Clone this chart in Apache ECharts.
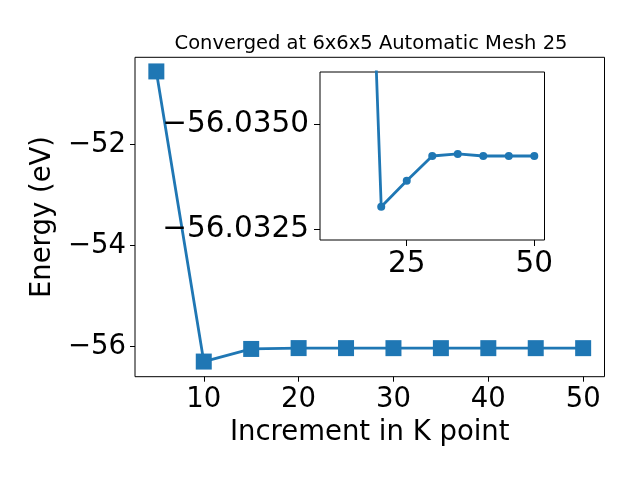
<!DOCTYPE html>
<html>
<head>
<meta charset="utf-8">
<script src="https://cdn.jsdelivr.net/npm/echarts@6/dist/echarts.min.js"></script>
<style>html,body{margin:0;padding:0;background:#fff}#c{width:640px;height:480px}</style>
</head>
<body>
<div id="c"></div>
<script>
const kPoints = [5, 10, 15, 20, 25, 30, 35, 40, 45, 50];
const energies = [-50.55, -56.30, -56.05, -56.03303, -56.03365, -56.03424, -56.03429, -56.03424, -56.03424, -56.03424];
const mainXTicks = [10, 20, 30, 40, 50];
const mainYTicks = [-56, -54, -52];
const insetXTicks = [25, 50];
const insetYTicks = [-56.0350, -56.0325];
const titleText = 'Converged at 6x6x5 Automatic Mesh 25';
const xName = 'Increment in K point';
const yName = 'Energy (eV)';

const FONT = 'DejaVu Sans';
const FS = 27.5;
const FS_IN = 29.5;
const minus = s => String(s).replace('-', '\u2212');
const mainData = kPoints.map((k, i) => [k, energies[i]]);
const insetData = kPoints.slice(1).map((k, i) => [k, energies[i + 1]]);
const axisCommon = {
  axisLine: { show: false },
  splitLine: { show: false }
};
const chart = echarts.init(document.getElementById('c'), null, { renderer: 'canvas' });
chart.setOption({
  animation: false,
  backgroundColor: '#fff',
  title: {
    text: titleText, left: 366, textAlign: 'center', top: 29,
    textStyle: { fontFamily: FONT, fontSize: 19.5, fontWeight: 'normal', color: '#000' }
  },
  grid: [
    { left: 135, right: 35.5, top: 57.3, bottom: 103.3, show: true, borderColor: '#000', borderWidth: 1, backgroundColor: 'transparent', z: 0 },
    { left: 320, right: 95.5, top: 72, bottom: 240, show: true, borderColor: '#000', borderWidth: 1, backgroundColor: '#fff', z: 5 }
  ],
  xAxis: [
    Object.assign({}, axisCommon, {
      gridIndex: 0, type: 'value', min: 2.75, max: 52.25,
      name: xName, nameLocation: 'middle', nameGap: 40,
      nameTextStyle: { fontFamily: FONT, fontSize: FS, color: '#000' },
      axisTick: { show: true, length: 5, customValues: mainXTicks, lineStyle: { color: '#000' } },
      axisLabel: { customValues: mainXTicks, margin: 9, fontFamily: FONT, fontSize: FS, color: '#000', formatter: v => minus(v) }
    }),
    Object.assign({}, axisCommon, {
      gridIndex: 1, type: 'value', min: 8, max: 52, z: 6,
      axisTick: { show: true, length: 6, customValues: insetXTicks, lineStyle: { color: '#000' } },
      axisLabel: { customValues: insetXTicks, margin: 9, fontFamily: FONT, fontSize: FS_IN, color: '#000', formatter: v => minus(v) }
    })
  ],
  yAxis: [
    Object.assign({}, axisCommon, {
      gridIndex: 0, type: 'value', min: -56.60, max: -50.27,
      name: yName, nameLocation: 'middle', nameGap: 66,
      nameTextStyle: { fontFamily: FONT, fontSize: FS, color: '#000' },
      axisTick: { show: true, length: 5, customValues: mainYTicks, lineStyle: { color: '#000' } },
      axisLabel: { customValues: mainYTicks, margin: 9, fontFamily: FONT, fontSize: FS, color: '#000', formatter: v => minus(v) }
    }),
    Object.assign({}, axisCommon, {
      gridIndex: 1, type: 'value', min: -56.03624, max: -56.03224, inverse: true, z: 6,
      axisTick: { show: true, length: 6, customValues: insetYTicks, lineStyle: { color: '#000' } },
      axisLabel: { customValues: insetYTicks, margin: 11, fontFamily: FONT, fontSize: FS_IN, color: '#000', formatter: v => minus(Number(v).toFixed(4)) }
    })
  ],
  series: [
    {
      type: 'line', xAxisIndex: 0, yAxisIndex: 0, data: mainData,
      symbol: 'rect', symbolSize: 16, showAllSymbol: true, clip: true,
      lineStyle: { color: '#1f77b4', width: 2.8 }, itemStyle: { color: '#1f77b4' },
      emphasis: { disabled: true }, z: 2
    },
    {
      type: 'line', xAxisIndex: 1, yAxisIndex: 1, data: insetData,
      symbol: 'circle', symbolSize: 8, showAllSymbol: true, clip: true,
      lineStyle: { color: '#1f77b4', width: 2.8 }, itemStyle: { color: '#1f77b4' },
      emphasis: { disabled: true }, z: 7
    }
  ]
});
</script>
</body>
</html>
